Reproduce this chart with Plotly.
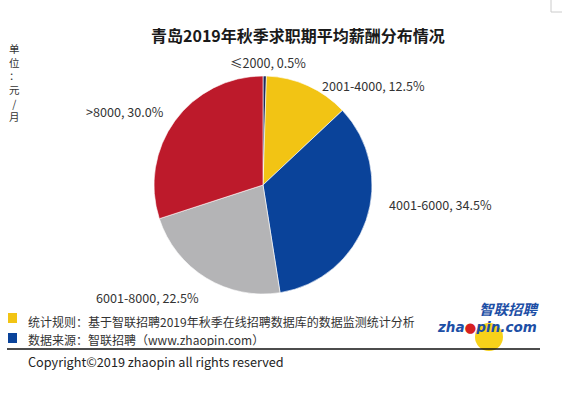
import plotly.graph_objects as go

categories = ["≤2000", "2001-4000", "4001-6000", "6001-8000", ">8000"]
values = [0.5, 12.5, 34.5, 22.5, 30.0]
colors = ["#1f2b5c", "#f2c414", "#0a439a", "#b4b4b6", "#bd1a2b"]

title_text = "青岛2019年秋季求职期平均薪酬分布情况"
unit_text = "单<br>位<br>：<br>元<br>/<br>月"
note_rule = "统计规则：基于智联招聘2019年秋季在线招聘数据库的数据监测统计分析"
note_source = "数据来源：智联招聘（www.zhaopin.com）"
copyright_text = "Copyright©2019 zhaopin all rights reserved"

FONT = "Noto Sans CJK SC"
W, H = 562, 394

# layout: pie geometry and label anchor points (pixels from top-left)
cx, cy, r = 263, 185, 109
label_pos = [(268, 63, "center"), (321, 85, "left"), (388, 205, "left"), (95, 297, "left"), (165, 112, "right")]


def px(x):
    return x / W


def py(y):
    return 1 - y / H


fig = go.Figure(go.Pie(
    labels=categories,
    values=values,
    sort=False,
    direction="clockwise",
    rotation=0,
    marker=dict(colors=colors, line=dict(color="white", width=0.6)),
    textinfo="none",
    showlegend=False,
    hoverinfo="label+percent",
    domain=dict(x=[px(cx - r), px(cx + r)], y=[py(cy + r), py(cy - r)]),
))

ann = []
for cat, val, (lx, ly, anchor) in zip(categories, values, label_pos):
    ann.append(dict(text=f"{cat}, {val:.1f}%", x=px(lx), y=py(ly), xref="paper", yref="paper",
                    showarrow=False, font=dict(family=FONT, size=12.6, color="#333333"),
                    xanchor=anchor, yanchor="middle", borderpad=0))

ann.append(dict(text="<b>" + title_text + "</b>", x=px(298), y=py(35), xref="paper", yref="paper",
                showarrow=False, font=dict(family=FONT, size=16, color="#1a1a1a"), xanchor="center", yanchor="middle"))
ann.append(dict(text=unit_text, x=px(14), y=py(40), xref="paper", yref="paper",
                showarrow=False, font=dict(family=FONT, size=10.5, color="#333333"),
                xanchor="center", yanchor="top", borderpad=0))
ann.append(dict(text=note_rule, x=px(27), y=py(321), xref="paper", yref="paper", showarrow=False,
                font=dict(family=FONT, size=12, color="#333333"), xanchor="left", yanchor="middle",
                borderpad=0, height=14))
ann.append(dict(text=note_source, x=px(27), y=py(339), xref="paper", yref="paper", showarrow=False,
                font=dict(family=FONT, size=12, color="#333333"), xanchor="left", yanchor="middle",
                borderpad=0, height=14))
ann.append(dict(text=copyright_text, x=px(27), y=py(361), xref="paper", yref="paper", showarrow=False,
                font=dict(family=FONT, size=12.7, color="#222222"), xanchor="left", yanchor="middle", borderpad=0))
ann.append(dict(text="<b><i>智联招聘</i></b>", x=px(541), y=py(308), xref="paper", yref="paper", showarrow=False,
                font=dict(family=FONT, size=14.5, color="#1d4fa6"), xanchor="right", yanchor="middle",
                borderpad=0, height=15))
ann.append(dict(text="<b><i>zha<span style='color:#d62020'>●</span>pin.com</i></b>", x=px(538), y=py(326),
                xref="paper", yref="paper", showarrow=False,
                font=dict(family="DejaVu Sans", size=13.5, color="#1d4fa6"), xanchor="right", yanchor="middle",
                borderpad=0, height=15))
fig.update_layout(annotations=ann)

shapes = [
    dict(type="circle", xref="paper", yref="paper", x0=px(475), x1=px(503), y0=py(351), y1=py(323),
         fillcolor="#f7d21a", line=dict(width=0), layer="below"),
    dict(type="rect", xref="paper", yref="paper", x0=px(8), x1=px(17), y0=py(323), y1=py(313),
         fillcolor="#f2c414", line=dict(width=0)),
    dict(type="rect", xref="paper", yref="paper", x0=px(8), x1=px(17), y0=py(343), y1=py(333),
         fillcolor="#0a439a", line=dict(width=0)),
    dict(type="line", xref="paper", yref="paper", x0=px(7), x1=px(540), y0=py(349), y1=py(349),
         line=dict(color="#111111", width=1.5)),
    dict(type="rect", xref="paper", yref="paper", x0=px(551), x1=px(563), y0=py(12), y1=1.01,
         fillcolor="rgba(0,0,0,0)", line=dict(color="#cccccc", width=1)),
]
fig.update_layout(shapes=shapes)

fig.update_layout(
    width=W, height=H,
    margin=dict(l=0, r=0, t=0, b=0),
    paper_bgcolor="white", plot_bgcolor="white",
)
fig.write_html("out.html", config={"displayModeBar": False},
               post_script="document.body.style.margin='0';document.body.style.overflow='hidden';")
